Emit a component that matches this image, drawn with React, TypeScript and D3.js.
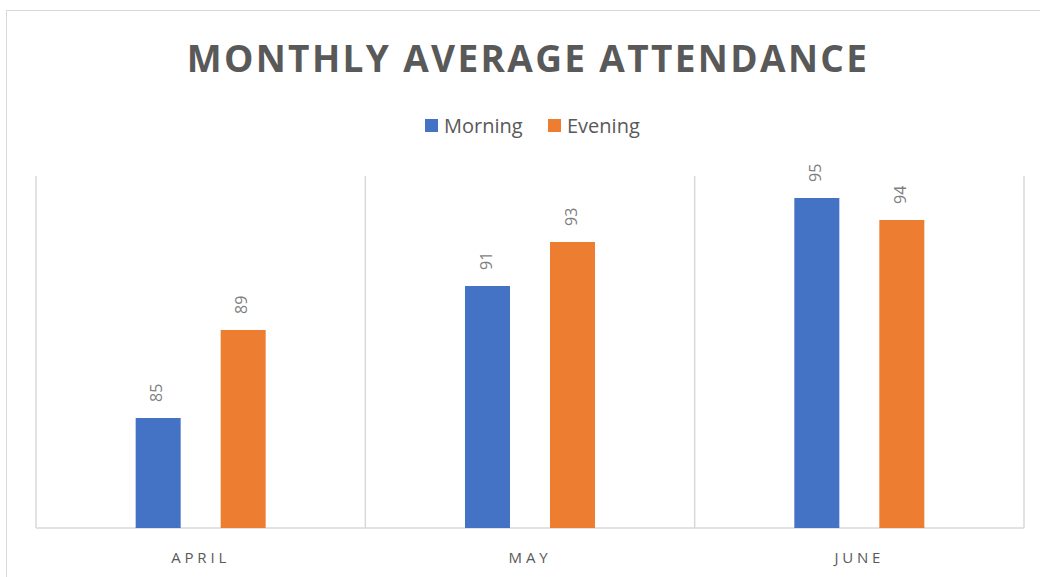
import React from 'react';
import * as d3 from 'd3';

const months = ['APRIL', 'MAY', 'JUNE'];
const series = ['Morning', 'Evening'];
const morning = [85, 91, 95];
const evening = [89, 93, 94];
const colors = ['#4472C4', '#ED7D31'];

const W = 1040;
const H = 577;

export default function App() {
  const left = 36;
  const right = 1024;
  const top = 176;
  const bottom = 528;

  const x = d3.scaleBand<string>().domain(months).range([left, right]).padding(0);
  // bars are 45 wide with a 40 gap, centred in each band
  const inner = d3.scaleBand<string>()
    .domain(series)
    .range([x.bandwidth() / 2 - 65, x.bandwidth() / 2 + 65])
    .paddingInner(40 / 85)
    .paddingOuter(0);
  const y = d3.scaleLinear().domain([80, 96]).range([bottom, top]);

  const values = [morning, evening];
  const gridX = [left, ...months.map(m => (x(m) as number) + x.bandwidth())];

  return (
    <svg width={W} height={H} style={{ position: 'absolute', left: 0, top: 0, background: '#fff' }}
      fontFamily="'Open Sans', sans-serif">
      <rect x={6.5} y={10.5} width={1040} height={600} fill="#fff" stroke="#D9D9D9" />
      <text x={528} y={72} textAnchor="middle" fontSize={37} fontWeight={700} fill="#595959"
        letterSpacing={2.35}>MONTHLY AVERAGE ATTENDANCE</text>

      <g transform="translate(425,126)">
        {series.map((s, i) => (
          <g key={s} transform={`translate(${i * 123},0)`}>
            <rect x={0} y={-7} width={13} height={13} fill={colors[i]} />
            <text x={19} y={7} fontSize={20} fill="#595959">{s}</text>
          </g>
        ))}
      </g>

      {gridX.map((gx, i) => (
        <line key={i} x1={gx} x2={gx} y1={top} y2={bottom} stroke="#D9D9D9" strokeWidth={1.5} />
      ))}
      <line x1={left} x2={right} y1={bottom} y2={bottom} stroke="#D9D9D9" strokeWidth={1.5} />

      {months.map((m, mi) => (
        <g key={m} transform={`translate(${x(m)},0)`}>
          {series.map((s, si) => {
            const v = values[si][mi];
            const bx = inner(s) as number;
            const bw = inner.bandwidth();
            return (
              <g key={s}>
                <rect x={bx} y={y(v)} width={bw} height={bottom - y(v)} fill={colors[si]} />
                <text transform={`translate(${bx + bw / 2},${y(v) - 16}) rotate(-90)`}
                  dominantBaseline="middle" fontSize={16} fill="#7F7F7F">{v}</text>
              </g>
            );
          })}
          <text x={x.bandwidth() / 2} y={563} textAnchor="middle" fontSize={15} fill="#595959"
            letterSpacing={3.8}>{m}</text>
        </g>
      ))}
    </svg>
  );
}
